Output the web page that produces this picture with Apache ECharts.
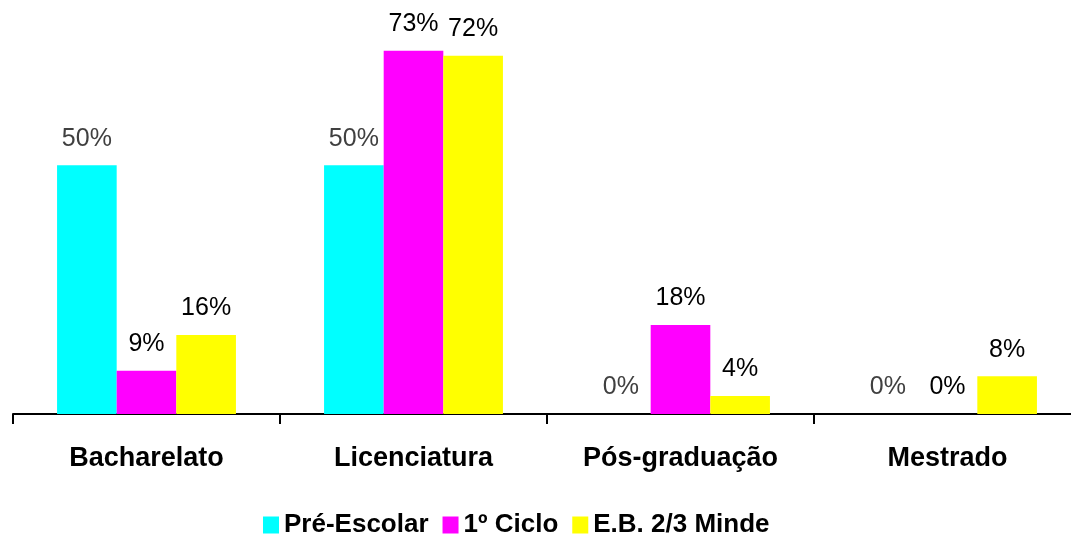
<!DOCTYPE html>
<html>
<head>
<meta charset="utf-8">
<script src="https://cdn.jsdelivr.net/npm/echarts@6/dist/echarts.min.js"></script>
<style>
  html, body { margin: 0; padding: 0; background: #fff; overflow: hidden; }
</style>
</head>
<body>
<!-- o eixo continua um pouco além da margem direita, como no original -->
<div id="main" style="width: 1081px;height:538px;"></div>
<script>
  // categorias e séries (percentagens)
  var categorias = ['Bacharelato', 'Licenciatura', 'Pós-graduação', 'Mestrado'];
  var preEscolar = [50, 50, 0, 0];
  var primeiroCiclo = [8.7, 73, 17.9, 0];
  var ebMinde = [15.9, 72, 3.6, 7.6];
  var nomesSeries = ['Pré-Escolar', '1º Ciclo', 'E.B. 2/3 Minde'];

  var fonte = '"Liberation Sans", Arial, sans-serif';

  function rotulo(cor) {
    return {
      show: true,
      position: 'top',
      distance: 14,
      color: cor,
      fontSize: 25,
      fontFamily: fonte,
      formatter: function (p) { return Math.round(p.value) + '%'; }
    };
  }

  var myChart = echarts.init(document.getElementById('main'));
  var option = {
    animation: false,
    grid: {
      left: 13,
      top: 16,
      right: 0,
      bottom: 124
    },
    legend: {
      data: nomesSeries,
      top: 507,
      left: 258,
      itemWidth: 16,
      itemHeight: 17,
      itemGap: 14,
      icon: 'rect',
      textStyle: {
        fontSize: 26,
        fontWeight: 'bold',
        color: '#000',
        fontFamily: fonte
      }
    },
    xAxis: {
      type: 'category',
      data: categorias,
      axisLine: { lineStyle: { color: '#000', width: 2 } },
      axisTick: { show: true, length: 10, lineStyle: { color: '#000', width: 2 } },
      axisLabel: {
        margin: 31,
        fontSize: 27,
        fontWeight: 'bold',
        color: '#000',
        fontFamily: fonte
      }
    },
    yAxis: {
      type: 'value',
      min: 0,
      max: 80,
      show: false,
      splitLine: { show: false }
    },
    series: [
      {
        name: nomesSeries[0],
        type: 'bar',
        data: preEscolar,
        barGap: '0%',
        barCategoryGap: '33%',
        itemStyle: { color: '#00FFFF' },
        label: rotulo('#404040')
      },
      {
        name: nomesSeries[1],
        type: 'bar',
        data: primeiroCiclo,
        itemStyle: { color: '#FF00FF' },
        label: rotulo('#000')
      },
      {
        name: nomesSeries[2],
        type: 'bar',
        data: ebMinde,
        itemStyle: { color: '#FFFF00' },
        label: rotulo('#000')
      }
    ]
  };
  myChart.setOption(option);
</script>
</body>
</html>
